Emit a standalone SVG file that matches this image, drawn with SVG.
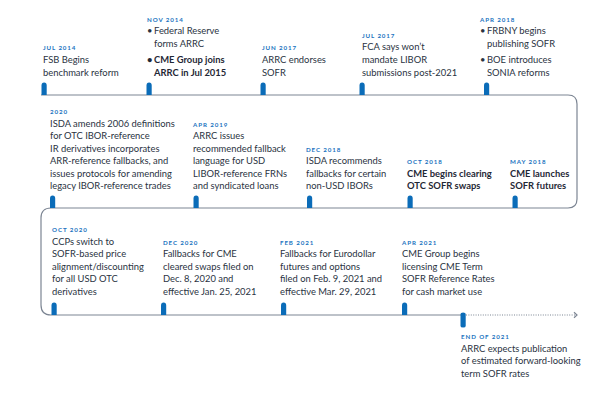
<svg xmlns="http://www.w3.org/2000/svg" xmlns:xlink="http://www.w3.org/1999/xlink" width="609" height="394" viewBox="0 0 609 394">
<style>
.bg{fill:#ffffff}
.d{font-family:Lato,"Noto Sans",sans-serif;font-size:6.2px;font-weight:700;fill:#1a73c0;letter-spacing:0.9px}
.t{font-family:Lato,"Noto Sans",sans-serif;font-size:9.4px;fill:#2a3342}
.b{font-weight:700;fill:#1f2836}
.tab{fill:#0b6cb8}
.ln{fill:none;stroke:#7c8593;stroke-width:1.2}
.dot{fill:none;stroke:#7c8593;stroke-width:1.2;stroke-dasharray:1 1.4}
</style>
<defs>
<path id="tab" d="M0 0V-9.5Q0-12.5 2.6-12.5Q5.2-12.5 5.2-9.5V0Z"/>
</defs>
<rect class="bg" width="609" height="394"/>
<g id="connectors">
<path class="ln" d="M41 95H568Q577 95 577 104V199Q577 208 568 208H51Q41 208 41 218V305Q41 315 51 315H462"/>
<path class="dot" d="M466 315H575"/>
<path class="ln" d="M574 312.3L577 315L574 317.7"/>
</g>
<g id="n-jul2014">
<use xlink:href="#tab" class="tab" x="41.5" y="95"/>
<text class="d" x="43" y="50">JUL 2014</text>
<text class="t" x="43" y="63">FSB Begins</text>
<text class="t" x="43" y="75.5">benchmark reform</text>
</g>
<g id="n-nov2014">
<use xlink:href="#tab" class="tab" x="146.5" y="95"/>
<text class="d" x="147" y="21.5">NOV 2014</text>
<text class="t" x="147" y="34">•</text>
<text class="t" x="154" y="34">Federal Reserve</text>
<text class="t" x="154" y="46.5">forms ARRC</text>
<text class="t b" x="147" y="63">•</text>
<text class="t b" x="154" y="63">CME Group joins</text>
<text class="t b" x="154" y="75.5">ARRC in Jul 2015</text>
</g>
<g id="n-jun2017">
<use xlink:href="#tab" class="tab" x="260.5" y="95"/>
<text class="d" x="262" y="50">JUN 2017</text>
<text class="t" x="262" y="63">ARRC endorses</text>
<text class="t" x="262" y="75.5">SOFR</text>
</g>
<g id="n-jul2017">
<use xlink:href="#tab" class="tab" x="359.5" y="95"/>
<text class="d" x="362" y="37.5">JUL 2017</text>
<text class="t" x="362" y="50">FCA says won’t</text>
<text class="t" x="362" y="63">mandate LIBOR</text>
<text class="t" x="362" y="75.5">submissions post-2021</text>
</g>
<g id="n-apr2018">
<use xlink:href="#tab" class="tab" x="484" y="95"/>
<text class="d" x="480" y="21.5">APR 2018</text>
<text class="t" x="480" y="34">•</text>
<text class="t" x="487" y="34">FRBNY begins</text>
<text class="t" x="487" y="46.5">publishing SOFR</text>
<text class="t" x="480" y="63">•</text>
<text class="t" x="487" y="63">BOE introduces</text>
<text class="t" x="487" y="75.5">SONIA reforms</text>
</g>
<g id="n-2020">
<use xlink:href="#tab" class="tab" x="50" y="208"/>
<text class="d" x="50" y="114">2020</text>
<text class="t" x="50" y="126.5">ISDA amends 2006 definitions</text>
<text class="t" x="50" y="139">for OTC IBOR-reference</text>
<text class="t" x="50" y="151.5">IR derivatives incorporates</text>
<text class="t" x="50" y="164">ARR-reference fallbacks, and</text>
<text class="t" x="50" y="176.5">issues protocols for amending</text>
<text class="t" x="50" y="189">legacy IBOR-reference trades</text>
</g>
<g id="n-apr2019">
<use xlink:href="#tab" class="tab" x="193.5" y="208"/>
<text class="d" x="193" y="126.5">APR 2019</text>
<text class="t" x="193" y="139">ARRC issues</text>
<text class="t" x="193" y="151.5">recommended fallback</text>
<text class="t" x="193" y="164">language for USD</text>
<text class="t" x="193" y="176.5">LIBOR-reference FRNs</text>
<text class="t" x="193" y="189">and syndicated loans</text>
</g>
<g id="n-dec2018">
<use xlink:href="#tab" class="tab" x="307" y="208"/>
<text class="d" x="306" y="151.5">DEC 2018</text>
<text class="t" x="306" y="164">ISDA recommends</text>
<text class="t" x="306" y="176.5">fallbacks for certain</text>
<text class="t" x="306" y="189">non-USD IBORs</text>
</g>
<g id="n-oct2018">
<use xlink:href="#tab" class="tab" x="407.5" y="208"/>
<text class="d" x="407" y="164">OCT 2018</text>
<text class="t b" x="407" y="176.5">CME begins clearing</text>
<text class="t b" x="407" y="189">OTC SOFR swaps</text>
</g>
<g id="n-may2018">
<use xlink:href="#tab" class="tab" x="512.5" y="208"/>
<text class="d" x="510" y="164">MAY 2018</text>
<text class="t b" x="510" y="176.5">CME launches</text>
<text class="t b" x="510" y="189">SOFR futures</text>
</g>
<g id="n-oct2020">
<use xlink:href="#tab" class="tab" x="51.5" y="315"/>
<text class="d" x="52" y="232">OCT 2020</text>
<text class="t" x="52" y="244.5">CCPs switch to</text>
<text class="t" x="52" y="257">SOFR-based price</text>
<text class="t" x="52" y="269.5">alignment/discounting</text>
<text class="t" x="52" y="282">for all USD OTC</text>
<text class="t" x="52" y="294.5">derivatives</text>
</g>
<g id="n-dec2020">
<use xlink:href="#tab" class="tab" x="161" y="315"/>
<text class="d" x="163" y="245">DEC 2020</text>
<text class="t" x="163" y="257">Fallbacks for CME</text>
<text class="t" x="163" y="269.5">cleared swaps filed on</text>
<text class="t" x="163" y="282">Dec. 8, 2020 and</text>
<text class="t" x="163" y="294.5">effective Jan. 25, 2021</text>
</g>
<g id="n-feb2021">
<use xlink:href="#tab" class="tab" x="281" y="315"/>
<text class="d" x="280" y="245">FEB 2021</text>
<text class="t" x="280" y="257">Fallbacks for Eurodollar</text>
<text class="t" x="280" y="269.5">futures and options</text>
<text class="t" x="280" y="282">filed on Feb. 9, 2021 and</text>
<text class="t" x="280" y="294.5">effective Mar. 29, 2021</text>
</g>
<g id="n-apr2021">
<use xlink:href="#tab" class="tab" x="402" y="315"/>
<text class="d" x="402" y="245">APR 2021</text>
<text class="t" x="402" y="257">CME Group begins</text>
<text class="t" x="402" y="269.5">licensing CME Term</text>
<text class="t" x="402" y="282">SOFR Reference Rates</text>
<text class="t" x="402" y="294.5">for cash market use</text>
</g>
<g id="n-end2021">
<path class="tab" d="M460.5 316V326Q460.5 327.5 463.1 327.5Q465.7 327.5 465.7 326V316V314Q465.7 312.5 463.1 312.5Q460.5 312.5 460.5 314Z"/>
<text class="d" x="461" y="338.5">END OF 2021</text>
<text class="t" x="461" y="351.5">ARRC expects publication</text>
<text class="t" x="461" y="364">of estimated forward-looking</text>
<text class="t" x="461" y="376.5">term SOFR rates</text>
</g>
</svg>
